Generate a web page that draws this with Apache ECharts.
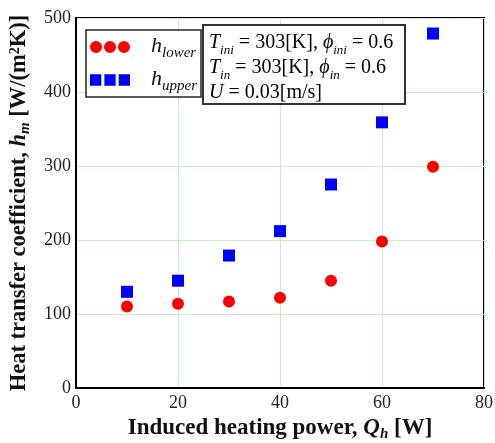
<!DOCTYPE html>
<html>
<head>
<meta charset="utf-8">
<script src="https://cdn.jsdelivr.net/npm/echarts@6/dist/echarts.min.js"></script>
<style>html,body{margin:0;padding:0;background:#fff}#c{width:495px;height:443px}</style>
</head>
<body>
<div id="c"></div>
<script>
const heatingPower = [10, 20, 30, 40, 50, 60, 70];
const hLower = [110, 114, 117, 122, 145, 198, 299];
const hUpper = [130, 145, 179, 212, 275, 359, 479];
const xTicks = [0, 20, 40, 60, 80];
const yTicks = [0, 100, 200, 300, 400, 500];

const FONT = '"Liberation Serif", "Times New Roman", serif';
const chart = echarts.init(document.getElementById('c'));
const circles3 = 'path://M0,6a6,6 0 1,0 12,0a6,6 0 1,0 -12,0Z M14,6a6,6 0 1,0 12,0a6,6 0 1,0 -12,0Z M28,6a6,6 0 1,0 12,0a6,6 0 1,0 -12,0Z';
const squares3 = 'path://M0,0h11v11h-11Z M14,0h11v11h-11Z M28,0h11v11h-11Z';

function titleRich(fs) {
  return {
    b: { fontFamily: FONT, fontWeight: 'bold', fontSize: fs, color: '#111', lineHeight: 24, verticalAlign: 'bottom' },
    bi: { fontFamily: FONT, fontWeight: 'bold', fontStyle: 'italic', fontSize: fs, color: '#111', lineHeight: 24, verticalAlign: 'bottom' },
    bs: { fontFamily: FONT, fontWeight: 'bold', fontStyle: 'italic', fontSize: 15, color: '#111', lineHeight: 24, verticalAlign: 'bottom', padding: [0, 0, -2, 0] },
    sup: { fontFamily: FONT, fontWeight: 'bold', fontSize: 14, color: '#111', lineHeight: 24, verticalAlign: 'top', padding: [1, 0, 0, 0] }
  };
}

chart.setOption({
  animation: false,
  backgroundColor: '#fff',
  grid: { left: 76, right: 11, top: 18, bottom: 55, outerBoundsMode: 'none', containLabel: false, show: true, borderColor: '#000', borderWidth: 2, backgroundColor: '#fff' },
  xAxis: {
    type: 'value', min: xTicks[0], max: xTicks[xTicks.length - 1], interval: 20,
    axisLine: { show: true, lineStyle: { color: '#000', width: 2 } },
    axisTick: { show: false },
    splitLine: { show: true, lineStyle: { color: '#c6efc6', width: 1 } },
    axisLabel: { color: '#222', fontFamily: FONT, fontSize: 18, margin: 6 },
    name: '{b|Induced heating power, }{bi|Q}{bs|h}{b| [W]}',
    nameLocation: 'middle', nameGap: 27,
    nameTextStyle: { rich: titleRich(23) }
  },
  yAxis: {
    type: 'value', min: yTicks[0], max: yTicks[yTicks.length - 1], interval: 100,
    axisLine: { show: true, lineStyle: { color: '#000', width: 2 } },
    axisTick: { show: false },
    splitLine: { show: true, lineStyle: { color: '#c6efc6', width: 1 } },
    axisLabel: { color: '#222', fontFamily: FONT, fontSize: 18, margin: 5 },
    name: '{b|Heat transfer coefficient, }{bi|h}{bs|m}{b| [W/(m}{sup|2}{b|K)]}',
    nameLocation: 'middle', nameGap: 41, nameRotate: 90,
    nameTextStyle: { rich: titleRich(22.5) }
  },
  legend: {
    orient: 'vertical', left: 86, top: 30, z: 10,
    backgroundColor: '#fff', borderColor: '#222', borderWidth: 1.5,
    padding: [5, 4, 3, 4], itemGap: 7,
    itemWidth: 40, itemHeight: 12,
    data: [
      { name: 'lower', icon: circles3 },
      { name: 'upper', icon: squares3 }
    ],
    formatter: n => '{i|h}{s|' + n + '}',
    textStyle: {
      padding: [0, 0, 0, 16],
      rich: {
        i: { fontFamily: FONT, fontStyle: 'italic', fontSize: 22, color: '#111', lineHeight: 20, verticalAlign: 'bottom' },
        s: { fontFamily: FONT, fontStyle: 'italic', fontSize: 15, color: '#111', lineHeight: 20, verticalAlign: 'bottom', padding: [0, 0, -4, 0] }
      }
    }
  },
  graphic: [{
    type: 'group', left: 202, top: 24, z: 100,
    children: [
      { type: 'rect', z: 100, shape: { x: 0, y: 0, width: 202, height: 79 }, style: { fill: '#fff', stroke: '#333', lineWidth: 2 } },
      {
        type: 'text', z: 101, x: 6, y: 3,
        style: {
          text: '{i|T}{s|ini}{n| = 303[K], }{i|ϕ}{s|ini}{n| = 0.6}\n{i|T}{s|in}{n| = 303[K], }{i|ϕ}{s|in}{n| = 0.6}\n{i|U}{n| = 0.03[m/s]}',
          rich: {
            n: { fontFamily: FONT, fontSize: 20, color: '#111', lineHeight: 25, verticalAlign: 'bottom' },
            i: { fontFamily: FONT, fontStyle: 'italic', fontSize: 20, color: '#111', lineHeight: 25, verticalAlign: 'bottom' },
            s: { fontFamily: FONT, fontStyle: 'italic', fontSize: 13, color: '#111', lineHeight: 25, verticalAlign: 'bottom', padding: [0, 0, -4, 0] }
          }
        }
      }
    ]
  }],
  series: [
    { name: 'lower', type: 'scatter', symbol: 'circle', symbolSize: 12, itemStyle: { color: '#ff0000', opacity: 1 },
      data: heatingPower.map((x, i) => [x, hLower[i]]) },
    { name: 'upper', type: 'scatter', symbol: 'rect', symbolSize: 12, itemStyle: { color: '#0000ff', opacity: 1 },
      data: heatingPower.map((x, i) => [x, hUpper[i]]) }
  ]
});
</script>
</body>
</html>
